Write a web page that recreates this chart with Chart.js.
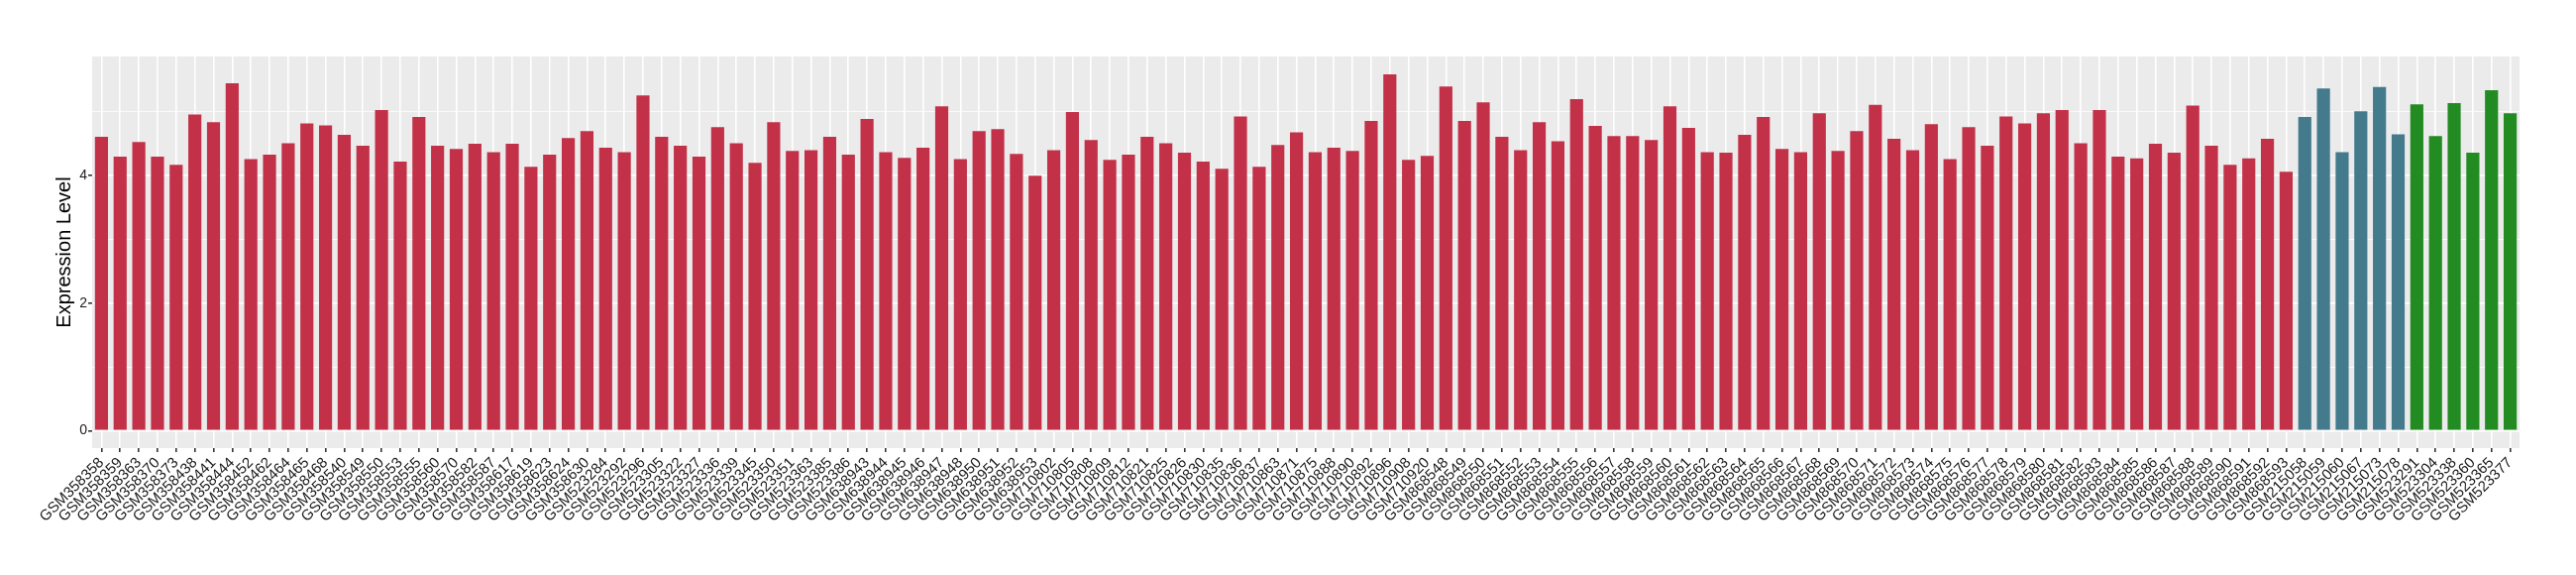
<!DOCTYPE html>
<html>
<head>
<meta charset="utf-8">
<script src="https://cdn.jsdelivr.net/npm/chart.js@4.4.1/dist/chart.umd.min.js"></script>
<style>
  body { margin: 0; background: #ffffff; }
  #wrap { width: 2600px; height: 580px; }
</style>
</head>
<body>
<div id="wrap"><canvas id="chart" width="2600" height="580"></canvas></div>
<script>
// samples per group, in plot order
var redSamples = [
  "GSM358358","GSM358359","GSM358363","GSM358370","GSM358373","GSM358438","GSM358441","GSM358444","GSM358452","GSM358462",
  "GSM358464","GSM358465","GSM358468","GSM358540","GSM358549","GSM358550","GSM358553","GSM358555","GSM358560","GSM358570",
  "GSM358582","GSM358587","GSM358617","GSM358619","GSM358623","GSM358624","GSM358630",
  "GSM523284","GSM523292","GSM523296","GSM523305","GSM523322","GSM523327","GSM523336","GSM523339","GSM523345","GSM523350",
  "GSM523351","GSM523363","GSM523385","GSM523386",
  "GSM638943","GSM638944","GSM638945","GSM638946","GSM638947","GSM638948","GSM638950","GSM638951","GSM638952","GSM638953",
  "GSM710802","GSM710805","GSM710808","GSM710809","GSM710812","GSM710821","GSM710825","GSM710826","GSM710830","GSM710835",
  "GSM710836","GSM710837","GSM710863","GSM710871","GSM710875","GSM710888","GSM710890","GSM710892","GSM710896","GSM710908",
  "GSM710920",
  "GSM868548","GSM868549","GSM868550","GSM868551","GSM868552","GSM868553","GSM868554","GSM868555","GSM868556","GSM868557",
  "GSM868558","GSM868559","GSM868560","GSM868561","GSM868562","GSM868563","GSM868564","GSM868565","GSM868566","GSM868567",
  "GSM868568","GSM868569","GSM868570","GSM868571","GSM868572","GSM868573","GSM868574","GSM868575","GSM868576","GSM868577",
  "GSM868578","GSM868579","GSM868580","GSM868581","GSM868582","GSM868583","GSM868584","GSM868585","GSM868586","GSM868587",
  "GSM868588","GSM868589","GSM868590","GSM868591","GSM868592","GSM868593"
];
var redValues = [
  4.61,4.30,4.53,4.30,4.17,4.96,4.84,5.45,4.26,4.33,
  4.51,4.82,4.79,4.64,4.47,5.03,4.22,4.92,4.47,4.42,
  4.50,4.37,4.50,4.14,4.33,4.59,4.70,4.44,4.37,5.26,
  4.61,4.47,4.30,4.76,4.51,4.20,4.84,4.39,4.40,4.61,
  4.33,4.89,4.37,4.28,4.44,5.09,4.26,4.70,4.73,4.34,
  4.00,4.40,5.00,4.56,4.25,4.33,4.61,4.51,4.36,4.22,
  4.11,4.93,4.14,4.48,4.68,4.37,4.44,4.39,4.86,5.59,
  4.25,4.31,5.40,4.86,5.15,4.61,4.40,4.84,4.54,5.20,
  4.78,4.62,4.62,4.56,5.09,4.75,4.37,4.36,4.64,4.92,
  4.42,4.37,4.98,4.39,4.70,5.11,4.58,4.40,4.81,4.26,
  4.76,4.47,4.93,4.82,4.98,5.03,4.51,5.03,4.30,4.27,
  4.50,4.36,5.10,4.47,4.17,4.27,4.58,4.06
];
var blueSamples = ["GSM215058","GSM215059","GSM215060","GSM215067","GSM215073","GSM215078"];
var blueValues = [4.92,5.37,4.37,5.01,5.39,4.65];
var greenSamples = ["GSM523291","GSM523304","GSM523338","GSM523360","GSM523365","GSM523377"];
var greenValues = [5.12,4.62,5.14,4.36,5.34,4.98];

var yTicks = [0, 1, 2, 3, 4, 5];   // majors 0,2,4 are labelled

var labels = redSamples.concat(blueSamples, greenSamples);
var values = redValues.concat(blueValues, greenValues);
var colors = [];
redSamples.forEach(function () { colors.push("#C33149"); });
blueSamples.forEach(function () { colors.push("#437A8C"); });
greenSamples.forEach(function () { colors.push("#228B22"); });

// grey ggplot-like panel behind the grid
var panelBg = {
  id: "panelBg",
  beforeDraw: function (chart) {
    var a = chart.chartArea, ctx = chart.ctx;
    ctx.save();
    ctx.fillStyle = "#EBEBEB";
    ctx.fillRect(a.left, a.top, a.right - a.left, a.bottom - a.top);
    ctx.restore();
  }
};

new Chart(document.getElementById("chart"), {
  type: "bar",
  data: {
    labels: labels,
    datasets: [{
      data: values,
      backgroundColor: colors,
      borderWidth: 0,
      barPercentage: 0.7,
      categoryPercentage: 1
    }]
  },
  plugins: [panelBg],
  options: {
    responsive: false,
    animation: false,
    layout: { padding: { top: 57, right: 57, left: 0, bottom: 0 } },
    plugins: { legend: { display: false }, tooltip: { enabled: false } },
    scales: {
      x: {
        afterFit: function (s) { s.height = 128; },
        border: { display: false },
        grid: {
          offset: false,
          color: "#FFFFFF",
          lineWidth: 1.6,
          tickColor: "#333333",
          tickLength: 4
        },
        ticks: {
          autoSkip: false,
          minRotation: 45,
          maxRotation: 45,
          padding: 2,
          color: "#1A1A1A",
          font: { family: "Liberation Sans, Arial, sans-serif", size: 15 }
        }
      },
      y: {
        min: -0.275,
        max: 5.87,
        afterFit: function (s) { s.width = 93; },
        afterBuildTicks: function (s) {
          s.ticks = yTicks.map(function (v) { return { value: v }; });
        },
        border: { display: false },
        grid: {
          color: "#FFFFFF",
          lineWidth: function (c) { return c.tick && c.tick.value % 2 === 0 ? 1.6 : 0.8; },
          tickColor: function (c) { return c.tick && c.tick.value % 2 === 0 ? "#333333" : "rgba(0,0,0,0)"; },
          tickLength: 4
        },
        ticks: {
          padding: 1,
          color: "#1A1A1A",
          font: { family: "Liberation Sans, Arial, sans-serif", size: 14 },
          callback: function (v) { return v % 2 === 0 ? String(v) : ""; }
        },
        title: {
          display: true,
          text: "Expression Level",
          color: "#000000",
          font: { family: "Liberation Sans, Arial, sans-serif", size: 20 },
          padding: { top: 53, bottom: 0 }
        }
      }
    }
  }
});
</script>
</body>
</html>
